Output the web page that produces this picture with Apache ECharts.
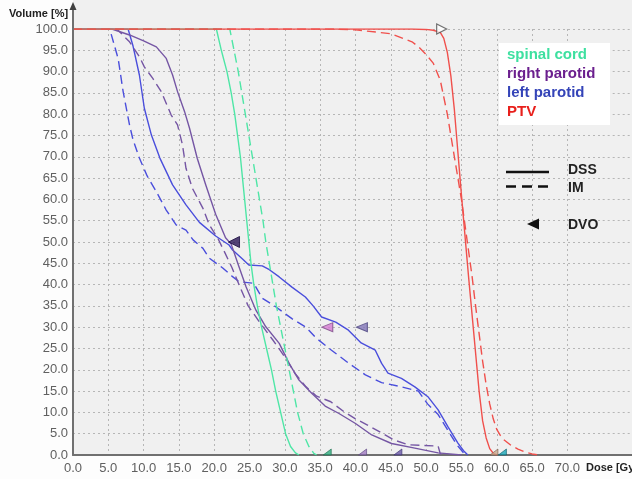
<!DOCTYPE html>
<html>
<head>
<meta charset="utf-8">
<script src="https://cdn.jsdelivr.net/npm/echarts@6/dist/echarts.min.js"></script>
<style>
html,body{margin:0;padding:0;background:#fdfdfd;}
#chart{width:632px;height:479px;}
</style>
</head>
<body>
<div id="chart"></div>
<script>
// ---- Data (dose in Gy, volume in %) ----
const xTicks = [0,5,10,15,20,25,30,35,40,45,50,55,60,65,70];
const yTicks = [0,5,10,15,20,25,30,35,40,45,50,55,60,65,70,75,80,85,90,95,100];

const cordDssDose = [0,20.3,21.0,21.8,22.4,22.9,23.3,23.7,24.0,24.3,24.6,24.9,25.2,25.6,26.1,26.7,27.4,28.1,28.7,29.4,30.1,30.8,31.5,32.0];
const cordDssVol  = [100,100,95,90,85,80,75,70,65,60,55,50,45,40,35,30,25,20,15,10,5,2,0.5,0];
const cordImDose  = [0,22.2,22.8,23.4,23.9,24.4,24.9,25.4,25.9,26.4,26.9,27.3,27.8,28.3,28.8,29.4,30.0,30.6,31.2,31.8,32.6,33.4,34.1,34.5];
const cordImVol   = [100,100,95,90,85,80,75,70,65,60,55,50,45,40,35,30,25,20,15,10,5,2,0.4,0];

const rParDssDose = [0,5.5,8,10,11.8,13.2,14.1,14.8,15.8,16.5,17.6,18.8,20.2,21.6,22.4,23.5,24.5,25.9,27.3,29.2,30.6,32,33.8,35.7,37.6,40,42.3,45.1,48.4,51.7,55];
const rParDssVol  = [100,100,98.6,97.2,95.8,93.1,89.2,85.3,80.6,76.7,69.6,63.4,56.5,51,49.5,44.2,39.5,34,30.1,26.2,21.5,17.6,14.5,11.5,9.8,7.4,4.7,2.7,1.6,0.5,0];
const rParImDose  = [0,6.2,8,9.4,10.1,11.3,12.5,13.9,14.8,15.5,16,16.9,18.4,19.3,20.5,21.5,22.5,23.5,24.8,26.5,28.3,30,31.5,33,34.5,36.5,38.5,40,41.5,43.7,45.5,47.5,51.7,52,52.5];
const rParImVol   = [100,100,97,93.5,91.1,88.4,85.3,79.8,77.5,72.8,67.3,62.6,57.9,54,50.9,47.5,44,40,35,31,27,23,19,16,13.8,12.5,10,8.5,7.2,5.2,3.5,2.4,2.1,0.3,0];

const lParDssDose = [0,7.8,8.5,9.4,10.1,11.1,12.3,14.1,16,17.9,20.2,22.1,22.6,24.0,24.9,26.8,27.8,29.2,31,32.9,34,35.2,37.2,39,40.8,42.8,43.7,44.6,46.5,48.4,50.3,51.7,53.1,54.5,55.3,55.9];
const lParDssVol  = [100,100,96,89.2,81.4,75.1,69.7,63.4,58.7,54.6,51.4,49.3,48.1,46,44.6,44.4,43.5,41.8,39.4,37.1,35,32.4,31.2,29.3,26.3,24.6,21.5,19.2,18,16,13.6,10.6,6.6,2.8,1,0];
const lParImDose  = [0,5.2,5.8,6.4,7.1,8.0,8.5,9.4,10.5,11.8,13.2,14.6,16,17,18.4,19.3,21.2,22.5,23.5,25.6,26.8,28.7,31,33,34.4,36.6,39,41.4,43.7,46.5,48.9,50.2,51.7,53,54.3,55.3,55.6];
const lParImVol   = [100,100,96.5,93,85.3,77.5,74,69.7,65.5,61.8,57.5,54,52.8,50.5,48.5,46.2,43.9,42,40.7,40.3,36.8,34.8,32,30,27.5,24.6,21.6,18.8,17,16,15,12,9.5,6,2.5,0.5,0];

const ptvDssDose = [0,48,50,51,52,52.5,53,53.5,54,54.5,55,55.5,56,56.5,57,57.5,58,58.5,59,59.5,60];
const ptvDssVol  = [100,100,99.9,99.7,99.2,97.8,94.5,89,81,71,61,51.5,42,33,24,15,8,4,1.5,0.4,0];
const ptvImDose  = [0,37,40,45,48,49,50,51,52,52.5,53,53.5,54,54.5,55,55.5,56,56.5,57,57.5,58,58.5,59,59.5,60,60.5,61,62,63,64,65,66];
const ptvImVol   = [100,100,99.8,98.9,97,95.7,94,92,88,84,80,75,70,65,60,54,48,42,35,28.5,22,16.5,12,8.5,6,4.6,3.6,2.3,1.4,0.7,0.25,0];

// DVO markers
const dvoLeftDose  = [22.8, 36.0, 40.9];
const dvoLeftVol   = [50, 30, 30];
const dvoPtvDose   = [52.2];
const dvoPtvVol    = [100];
const dvoBaseDose  = [36.0, 41.0, 46.0, 59.6, 60.8];
const dvoBaseVol   = [0, 0, 0, 0, 0];

const legendNames = ['spinal cord','right parotid','left parotid','PTV'];
const styleNames  = ['DSS','IM','DVO'];

// ---- Styles ----
const C_CORD = '#4ee6a6', C_RPAR = '#7556a4', C_LPAR = '#4a4edc', C_PTV = '#f0504c';
const FONT = 'Liberation Sans, Arial, sans-serif';
const pairs = (d, v) => d.map((x, i) => [x, v[i]]);
const DASH = [9, 5];

function line(name, d, v, color, dashed) {
  return {
    name, type: 'line', data: pairs(d, v), showSymbol: false, symbol: 'none',
    xAxisIndex: 0, yAxisIndex: 0, animation: false,
    lineStyle: { color, width: 1.4, type: dashed ? DASH : 'solid' },
    z: 3
  };
}

const TRI_LEFT  = 'path://M0,5 L10,0 L10,10 Z';
const TRI_RIGHT = 'path://M10,5 L0,0 L0,10 Z';
const TRI_HALF  = 'path://M0,10 L10,0 L10,10 Z';

const chart = echarts.init(document.getElementById('chart'), null, { renderer: 'canvas' });
const gridLine = { show: true, lineStyle: { color: '#b6b6b6', width: 1, type: [2, 3] } };

const option = {
  backgroundColor: '#fdfdfd',
  animation: false,
  grid: [
    { left: 73, top: 29, width: 529.7, height: 426, containLabel: false },
    { left: 602.7, right: 0, top: 29, height: 426, containLabel: false }
  ],
  xAxis: [
    { type: 'value', gridIndex: 0, min: 0, max: 75, interval: 5,
      axisLine: { show: true, onZero: false, lineStyle: { color: '#707070', width: 2 } },
      axisTick: { show: false },
      axisLabel: { color: '#606060', fontSize: 13, fontFamily: FONT, margin: 7,
        formatter: v => (xTicks.indexOf(v) >= 0 ? v.toFixed(1) : '') },
      splitLine: Object.assign({ showMinLine: false, showMaxLine: false }, gridLine) },
    { type: 'value', gridIndex: 1, min: 0, max: 1,
      axisLine: { show: true, onZero: false, lineStyle: { color: '#707070', width: 2 } },
      axisTick: { show: false }, axisLabel: { show: false }, splitLine: { show: false } }
  ],
  yAxis: [
    { type: 'value', gridIndex: 0, min: 0, max: 100, interval: 5,
      axisLine: { show: true, onZero: false, lineStyle: { color: '#707070', width: 2 } },
      axisTick: { show: false },
      axisLabel: { color: '#606060', fontSize: 13, fontFamily: FONT, margin: 5,
        formatter: v => (yTicks.indexOf(v) >= 0 ? v.toFixed(1) : '') },
      splitLine: Object.assign({ showMinLine: false, showMaxLine: true }, gridLine) },
    { type: 'value', gridIndex: 1, min: 0, max: 100, interval: 5,
      axisLine: { show: false }, axisTick: { show: false }, axisLabel: { show: false },
      splitLine: Object.assign({ showMinLine: false, showMaxLine: true }, gridLine) }
  ],
  series: [
    line('left parotid IM', lParImDose, lParImVol, C_LPAR, true),
    line('left parotid DSS', lParDssDose, lParDssVol, C_LPAR, false),
    line('right parotid IM', rParImDose, rParImVol, C_RPAR, true),
    line('right parotid DSS', rParDssDose, rParDssVol, C_RPAR, false),
    line('spinal cord IM', cordImDose, cordImVol, C_CORD, true),
    line('spinal cord DSS', cordDssDose, cordDssVol, C_CORD, false),
    line('PTV IM', ptvImDose, ptvImVol, C_PTV, true),
    line('PTV DSS', ptvDssDose, ptvDssVol, C_PTV, false),
    { name: 'DVO', type: 'scatter', z: 5, animation: false, symbol: TRI_LEFT,
      data: [
        { value: [dvoLeftDose[0], dvoLeftVol[0]], symbolSize: [11, 11], itemStyle: { color: '#2a1656', borderColor: '#1a0c40', borderWidth: 1 } },
        { value: [dvoLeftDose[1], dvoLeftVol[1]], symbolSize: [11, 9], itemStyle: { color: '#d67ad2', borderColor: '#7a4a86', borderWidth: 1 } },
        { value: [dvoLeftDose[2], dvoLeftVol[2]], symbolSize: [11, 9], itemStyle: { color: '#8276b8', borderColor: '#4a427e', borderWidth: 1 } }
      ] },
    { name: 'DVO PTV', type: 'scatter', z: 5, animation: false, symbol: TRI_RIGHT,
      data: [ { value: [dvoPtvDose[0], dvoPtvVol[0]], symbolSize: [10, 10], itemStyle: { color: '#ffffff', borderColor: '#505050', borderWidth: 1.2 } } ] },
    { name: 'DVO base', type: 'scatter', z: 5, animation: false, symbol: TRI_HALF, symbolOffset: [0, -3],
      data: [
        { value: [dvoBaseDose[0], dvoBaseVol[0]], symbolSize: [8, 6], itemStyle: { color: '#2fae80', borderColor: '#1d6e50', borderWidth: 0.8 } },
        { value: [dvoBaseDose[1], dvoBaseVol[1]], symbolSize: [8, 6], itemStyle: { color: '#a07ac0', borderColor: '#5a4480', borderWidth: 0.8 } },
        { value: [dvoBaseDose[2], dvoBaseVol[2]], symbolSize: [8, 6], itemStyle: { color: '#6a58a8', borderColor: '#3a3070', borderWidth: 0.8 } },
        { value: [dvoBaseDose[3], dvoBaseVol[3]], symbolSize: [8, 6], itemStyle: { color: '#c8a88c', borderColor: '#806050', borderWidth: 0.8 } },
        { value: [dvoBaseDose[4], dvoBaseVol[4]], symbolSize: [8, 6], itemStyle: { color: '#1aa8b8', borderColor: '#106070', borderWidth: 0.8 } }
      ] }
  ],
  graphic: [
    { type: 'rect', z: -10, silent: true, shape: { x: 73, y: 0, width: 559, height: 455 }, style: { fill: '#f0f0f0' } },
    { type: 'line', z: 10, shape: { x1: 73, y1: 30, x2: 73, y2: 6 }, style: { stroke: '#707070', lineWidth: 2 } },
    { type: 'polygon', z: 10, shape: { points: [[69.5, 10], [73, 2], [76.5, 10]] }, style: { fill: '#404040' } },
    { type: 'text', x: 9, y: 14, style: { text: 'Volume [%]', font: 'bold 11px ' + FONT, fill: '#222', verticalAlign: 'middle' } },
    { type: 'text', x: 586, y: 468, style: { text: 'Dose [Gy]', font: 'bold 11px ' + FONT, fill: '#222', verticalAlign: 'middle' } },
    { type: 'rect', z: 8, shape: { x: 499, y: 43, width: 111, height: 82 }, style: { fill: '#ffffff' } },
    { type: 'text', z: 9, x: 507, y: 55, style: { text: legendNames[0], font: 'bold 15px ' + FONT, fill: '#3ee0a0', verticalAlign: 'middle' } },
    { type: 'text', z: 9, x: 507, y: 73.5, style: { text: legendNames[1], font: 'bold 15px ' + FONT, fill: '#6b1f8e', verticalAlign: 'middle' } },
    { type: 'text', z: 9, x: 507, y: 92.5, style: { text: legendNames[2], font: 'bold 15px ' + FONT, fill: '#3444b8', verticalAlign: 'middle' } },
    { type: 'text', z: 9, x: 507, y: 111.5, style: { text: legendNames[3], font: 'bold 15px ' + FONT, fill: '#e8201c', verticalAlign: 'middle' } },
    { type: 'line', z: 9, shape: { x1: 506, y1: 172, x2: 549, y2: 172 }, style: { stroke: '#111', lineWidth: 2.5 } },
    { type: 'line', z: 9, shape: { x1: 506, y1: 186.5, x2: 550, y2: 186.5 }, style: { stroke: '#111', lineWidth: 2.5, lineDash: [10, 6] } },
    { type: 'polygon', z: 9, shape: { points: [[527, 224], [539, 218.5], [539, 229.5]] }, style: { fill: '#111' } },
    { type: 'text', z: 9, x: 568, y: 170, style: { text: styleNames[0], font: 'bold 14px ' + FONT, fill: '#222', verticalAlign: 'middle' } },
    { type: 'text', z: 9, x: 568, y: 188, style: { text: styleNames[1], font: 'bold 14px ' + FONT, fill: '#222', verticalAlign: 'middle' } },
    { type: 'text', z: 9, x: 568, y: 225, style: { text: styleNames[2], font: 'bold 14px ' + FONT, fill: '#222', verticalAlign: 'middle' } }
  ]
};
chart.setOption(option);
</script>
</body>
</html>
